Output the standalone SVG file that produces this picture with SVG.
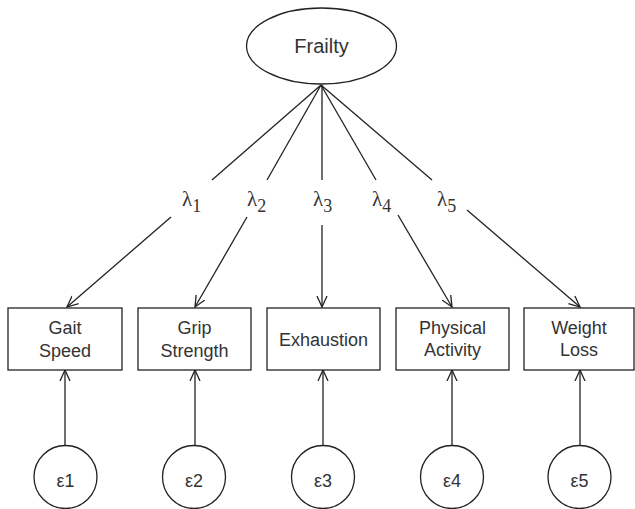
<svg xmlns="http://www.w3.org/2000/svg" width="635" height="509" viewBox="0 0 635 509">
<defs>
<style>
.sh{fill:#fff;stroke:#222;stroke-width:1.3}
.ln{stroke:#222;stroke-width:1.3;fill:none}
.t{font-family:"Liberation Sans",Arial,sans-serif;font-size:18px;fill:#333;text-anchor:middle}
.lam{font-family:"Liberation Serif","Times New Roman",serif;font-size:21px;fill:#333}
.sub{font-size:18px}
</style>
<marker id="ah" viewBox="0 0 12 12" refX="11" refY="6" markerWidth="12" markerHeight="12" markerUnits="userSpaceOnUse" orient="auto">
<path d="M0,1 L11,6 L0,11" fill="none" stroke="#222" stroke-width="1.3"/>
</marker>
</defs>
<g id="connectors">
<line class="ln" x1="321" y1="85" x2="212" y2="180"/>
<line class="ln" x1="171" y1="217" x2="67" y2="307" marker-end="url(#ah)"/>
<line class="ln" x1="321" y1="85" x2="267" y2="180"/>
<line class="ln" x1="247" y1="217" x2="195" y2="307" marker-end="url(#ah)"/>
<line class="ln" x1="322" y1="85" x2="322" y2="180"/>
<line class="ln" x1="322" y1="225" x2="322" y2="307" marker-end="url(#ah)"/>
<line class="ln" x1="321" y1="85" x2="376" y2="180"/>
<line class="ln" x1="398" y1="215" x2="452" y2="307" marker-end="url(#ah)"/>
<line class="ln" x1="321" y1="85" x2="432" y2="180"/>
<line class="ln" x1="467" y1="210" x2="580" y2="307" marker-end="url(#ah)"/>
<line class="ln" x1="65" y1="446" x2="65" y2="370" marker-end="url(#ah)"/>
<line class="ln" x1="195" y1="446" x2="195" y2="370" marker-end="url(#ah)"/>
<line class="ln" x1="323" y1="446" x2="323" y2="370" marker-end="url(#ah)"/>
<line class="ln" x1="452" y1="446" x2="452" y2="370" marker-end="url(#ah)"/>
<line class="ln" x1="580" y1="446" x2="580" y2="370" marker-end="url(#ah)"/>
<text class="lam" x="182" y="206">λ<tspan class="sub" dy="6">1</tspan></text>
<text class="lam" x="247" y="206">λ<tspan class="sub" dy="6">2</tspan></text>
<text class="lam" x="313" y="206">λ<tspan class="sub" dy="6">3</tspan></text>
<text class="lam" x="372" y="206">λ<tspan class="sub" dy="6">4</tspan></text>
<text class="lam" x="437" y="206">λ<tspan class="sub" dy="6">5</tspan></text>
</g>
<g id="frailty">
<ellipse class="sh" cx="321.5" cy="46" rx="75" ry="38"/>
<text class="t" x="321.5" y="53" style="font-size:20px">Frailty</text>
</g>
<g id="gait">
<rect class="sh" x="8" y="308" width="114" height="62"/>
<text class="t" x="65" y="334">Gait</text>
<text class="t" x="65" y="357">Speed</text>
</g>
<g id="grip">
<rect class="sh" x="138" y="308" width="113" height="62"/>
<text class="t" x="194.5" y="334">Grip</text>
<text class="t" x="194.5" y="357">Strength</text>
</g>
<g id="exhaustion">
<rect class="sh" x="267" y="308" width="113" height="62"/>
<text class="t" x="323.5" y="346">Exhaustion</text>
</g>
<g id="physical">
<rect class="sh" x="396" y="308" width="113" height="62"/>
<text class="t" x="452.5" y="334">Physical</text>
<text class="t" x="452.5" y="356">Activity</text>
</g>
<g id="weight">
<rect class="sh" x="524" y="308" width="110" height="62"/>
<text class="t" x="579" y="334">Weight</text>
<text class="t" x="579" y="356">Loss</text>
</g>
<g id="e1"><circle class="sh" cx="65.5" cy="477" r="31.5"/><text class="t" x="65.5" y="487">ε1</text></g>
<g id="e2"><circle class="sh" cx="194" cy="477" r="31.5"/><text class="t" x="194" y="487">ε2</text></g>
<g id="e3"><circle class="sh" cx="323" cy="477" r="31.5"/><text class="t" x="323" y="487">ε3</text></g>
<g id="e4"><circle class="sh" cx="452" cy="477" r="31.5"/><text class="t" x="452" y="487">ε4</text></g>
<g id="e5"><circle class="sh" cx="579.5" cy="477" r="31.5"/><text class="t" x="579.5" y="487">ε5</text></g>
</svg>
